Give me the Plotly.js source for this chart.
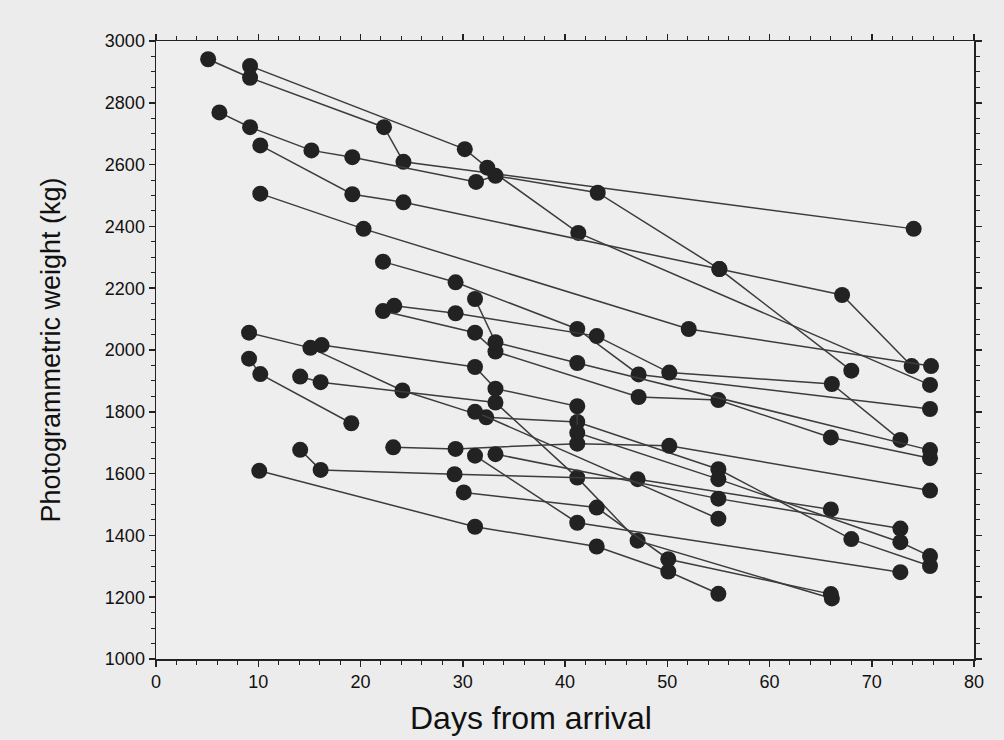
<!DOCTYPE html>
<html><head><meta charset="utf-8">
<script src="https://cdn.plot.ly/plotly-3.0.1.min.js"></script>
<style>body{margin:0;background:#ececec;}#chart{width:1004px;height:740px;}</style>
</head><body><div id="chart"></div>
<script>
// Each animal: days from arrival (x) and photogrammetric weight in kg (y)
const s1x = [5.1, 9.2, 22.3, 24.2, 74.1];
const s1y = [2941, 2881, 2721, 2609, 2392];
const s2x = [9.2, 30.2, 32.4, 41.3, 75.7];
const s2y = [2919, 2650, 2590, 2379, 1887];
const s3x = [6.2, 9.2, 15.2, 19.2, 31.3, 33.2, 43.2, 55.1, 67.1, 73.9];
const s3y = [2769, 2721, 2646, 2624, 2544, 2564, 2509, 2262, 2178, 1948];
const s4x = [10.2, 19.2, 24.2, 55.1, 68.0];
const s4y = [2662, 2504, 2478, 2262, 1933];
const s5x = [10.2, 20.3, 52.1, 75.8];
const s5y = [2506, 2392, 2068, 1948];
const s6x = [22.2, 29.3, 41.2, 47.2, 75.7];
const s6y = [2286, 2219, 2068, 1921, 1809];
const s7x = [23.3, 29.3, 43.1, 50.2, 66.1, 72.8];
const s7y = [2143, 2119, 2045, 1927, 1890, 1709];
const s8x = [22.2, 31.2, 33.2, 47.2, 55.0, 66.0, 75.7];
const s8y = [2126, 2056, 1995, 1848, 1838, 1717, 1650];
const s9x = [31.2, 33.2, 41.2, 75.7];
const s9y = [2165, 2025, 1958, 1676];
const s10x = [9.1, 15.1, 24.1, 32.3, 41.2, 55.0, 68.0, 75.7];
const s10y = [2056, 2007, 1869, 1782, 1767, 1614, 1388, 1301];
const s11x = [16.2, 31.2, 33.2, 41.2, 41.2, 55.0, 72.8, 75.7];
const s11y = [2016, 1945, 1875, 1818, 1732, 1582, 1378, 1333];
const s12x = [14.1, 16.1, 33.2, 41.2, 47.1, 66.1];
const s12y = [1914, 1896, 1830, 1587, 1383, 1196];
const s13x = [9.1, 10.2, 19.1];
const s13y = [1972, 1922, 1763];
const s14x = [14.1, 16.1, 29.2, 47.1, 66.0];
const s14y = [1677, 1612, 1598, 1582, 1484];
const s15x = [23.2, 29.3, 41.2, 50.2, 75.7];
const s15y = [1685, 1680, 1697, 1690, 1545];
const s16x = [10.1, 31.2, 43.1, 50.1, 55.0];
const s16y = [1609, 1428, 1364, 1283, 1211];
const s17x = [30.1, 43.1, 50.1, 66.0];
const s17y = [1539, 1490, 1323, 1210];
const s18x = [31.2, 41.2, 72.8];
const s18y = [1658, 1441, 1281];
const s19x = [33.2, 55.0, 72.8];
const s19y = [1663, 1519, 1422];
const s20x = [31.2, 55.0];
const s20y = [1800, 1454];

const xTitle = 'Days from arrival';
const yTitle = 'Photogrammetric weight (kg)';

const xs = [s1x,s2x,s3x,s4x,s5x,s6x,s7x,s8x,s9x,s10x,s11x,s12x,s13x,s14x,s15x,s16x,s17x,s18x,s19x,s20x];
const ys = [s1y,s2y,s3y,s4y,s5y,s6y,s7y,s8y,s9y,s10y,s11y,s12y,s13y,s14y,s15y,s16y,s17y,s18y,s19y,s20y];

const traces = xs.map((x, i) => ({
  x: x, y: ys[i], type: 'scatter', mode: 'lines+markers',
  line: {color: '#3c3c3c', width: 1.5},
  marker: {color: '#222222', size: 16, line: {width: 0}},
  hoverinfo: 'x+y', showlegend: false
}));

const fam = 'Liberation Sans, Arial, Helvetica, sans-serif';
const axisCommon = {
  showline: true, linecolor: '#222', linewidth: 1.5, mirror: 'ticks',
  ticks: 'outside', tickcolor: '#222', tickwidth: 1.5, ticklen: 6,
  showgrid: false, zeroline: false,
  tickfont: {family: fam, size: 18, color: '#111'}
};

const layout = {
  width: 1004, height: 740,
  paper_bgcolor: '#ececec', plot_bgcolor: '#eeeeee',
  margin: {l: 156, r: 30, t: 41, b: 81},
  xaxis: Object.assign({}, axisCommon, {
    range: [0, 80], tick0: 0, dtick: 10,
    minor: {ticks: 'outside', dtick: 2, ticklen: 4, tickcolor: '#222', tickwidth: 1}
  }),
  yaxis: Object.assign({}, axisCommon, {
    range: [1000, 3000], tick0: 1000, dtick: 200,
    minor: {ticks: 'outside', dtick: 50, ticklen: 4, tickcolor: '#222', tickwidth: 1},
    title: {text: yTitle, font: {family: fam, size: 27, color: '#111'}, standoff: 36}
  }),
  annotations: [{
    text: xTitle, xref: 'paper', yref: 'paper', x: 0.458, y: -0.096,
    xanchor: 'center', yanchor: 'middle', showarrow: false,
    font: {family: fam, size: 32, color: '#111'}
  }]
};

Plotly.newPlot('chart', traces, layout, {displayModeBar: false, staticPlot: true});
</script>
</body></html>
